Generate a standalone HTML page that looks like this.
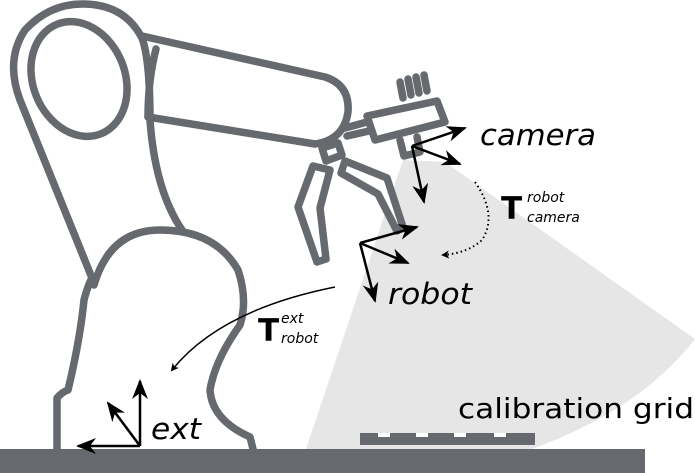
<!DOCTYPE html>
<html><head><style>html,body{margin:0;padding:0;background:#fff;}svg{display:block}</style></head>
<body>
<svg width="695" height="473" viewBox="0 0 695 473" xmlns="http://www.w3.org/2000/svg" font-family="DejaVu Sans, Liberation Sans, sans-serif">
<defs>
<marker id="ah" markerWidth="8" markerHeight="8" refX="6" refY="4" orient="auto" markerUnits="userSpaceOnUse" viewBox="0 0 8 8"><path d="M0,0 L8,4 L0,8 L2,4 Z" fill="#000"/></marker>
<marker id="big" markerWidth="20" markerHeight="16" refX="18" refY="8" orient="auto" markerUnits="userSpaceOnUse"><path d="M0,0 L20,8 L0,16 L6,8 Z" fill="#000"/></marker>
</defs>
<path d="M403,160 L445,162 L695,339 Q640,410 532,449 L306,449 Z" fill="#e6e6e6"/>
<rect x="0" y="449" width="645" height="24" fill="#66696d"/>
<rect x="360" y="433" width="175" height="12" fill="#66696d"/>
<rect x="378" y="433" width="12" height="4" fill="#fff"/>
<rect x="416" y="433" width="12" height="4" fill="#fff"/>
<rect x="454" y="433" width="12" height="4" fill="#fff"/>
<rect x="494" y="433" width="12" height="4" fill="#fff"/>
<g fill="none" stroke="#66696d" stroke-width="7.5" stroke-linejoin="round" stroke-linecap="round">
<path d="M57,449 L57,398 Q62,392 68,390 Q80,340 84,300 Q88,285 92,278 L20,100 Q5,60 25,30 Q50,3 85,4 Q125,5 142,38 Q150,60 150,120 Q155,190 182,230"/>
<path d="M94,285 Q110,230 160,230 Q215,230 238,270 Q248,300 240,325 Q215,360 210,390 Q212,420 250,437 L253,449"/>
<ellipse cx="79" cy="79" rx="46" ry="59" transform="rotate(-22 79 79)"/>
<path d="M142,36 L325,77 Q350,85 348,112 Q344,140 315,144 L148,117"/>
<path d="M156,49 Q148,80 148,117"/>
<path d="M345,128 L367,122 M347,136 L369,131"/>
<path d="M322,148 L338,143 L342,155 L326,161 Z"/>
<path d="M367,116 L437,101 L445,122 L375,140 Z"/>
<path d="M403,98 L400,82 M411,95 L408,79 M419,93 L416,77 M427,91 L424,75"/>
<path d="M400,140 L404,156 L420,152 L417,137"/>
<path d="M313,166 L330,170 L320,208 L326,259 L317,262 L298,207 Z" fill="#fff"/>
<path d="M345,161 L387,178 L403,227 L397,231 L378,194 L341,173 Z" fill="#fff"/>
</g>
<g stroke="#000" stroke-width="2.5" fill="none">
<line x1="412" y1="146" x2="465" y2="128" marker-end="url(#big)"/>
<line x1="412" y1="146" x2="460" y2="164" marker-end="url(#big)"/>
<line x1="412" y1="146" x2="424" y2="202" marker-end="url(#big)"/>
<line x1="360" y1="243" x2="417" y2="227" marker-end="url(#big)"/>
<line x1="360" y1="243" x2="408" y2="263" marker-end="url(#big)"/>
<line x1="360" y1="243" x2="375" y2="301" marker-end="url(#big)"/>
<line x1="140" y1="446" x2="140" y2="381" marker-end="url(#big)"/>
<line x1="140" y1="446" x2="108" y2="403" marker-end="url(#big)"/>
<line x1="140" y1="446" x2="78" y2="446" marker-end="url(#big)"/>
</g>
<path d="M335,287 Q220,310 172,370" stroke="#000" stroke-width="1.5" fill="none" marker-end="url(#ah)"/>
<path d="M475,182 Q498,215 482,240 Q468,253 443,255" stroke="#000" stroke-width="2" stroke-dasharray="1.5,3" fill="none" marker-end="url(#ah)"/>
<text x="480" y="145" font-size="29" font-style="italic" textLength="116" lengthAdjust="spacingAndGlyphs">camera</text>
<text x="388" y="304" font-size="29" font-style="italic" textLength="84" lengthAdjust="spacingAndGlyphs">robot</text>
<text x="151" y="439" font-size="29" font-style="italic" textLength="50" lengthAdjust="spacingAndGlyphs">ext</text>
<text x="458" y="418" font-size="28" textLength="236" lengthAdjust="spacingAndGlyphs">calibration grid</text>
<text x="501" y="219" font-size="31" font-weight="bold">T</text>
<text x="527" y="202" font-size="14" font-style="italic">robot</text>
<text x="527" y="222" font-size="14" font-style="italic">camera</text>
<text x="258" y="341" font-size="31" font-weight="bold">T</text>
<text x="281" y="323" font-size="14" font-style="italic">ext</text>
<text x="281" y="343" font-size="14" font-style="italic">robot</text>
</svg>
</body></html>
